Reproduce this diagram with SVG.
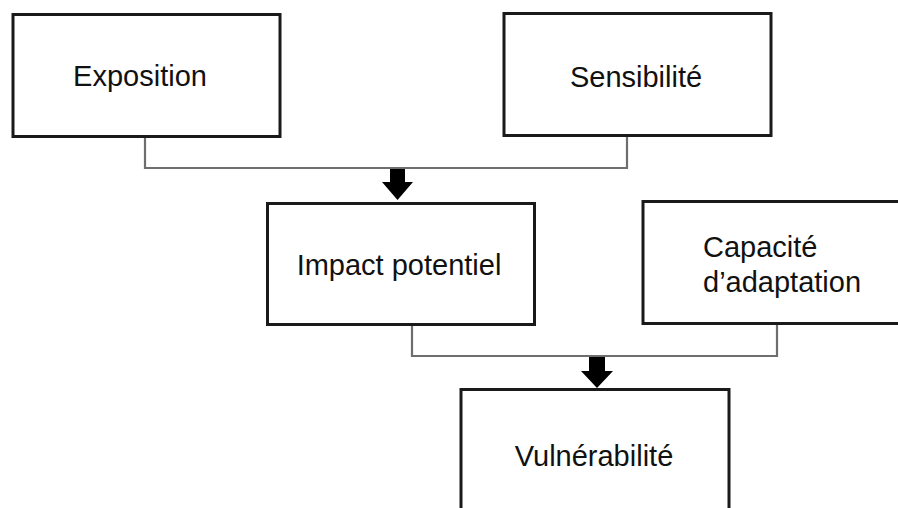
<svg xmlns="http://www.w3.org/2000/svg" width="898" height="508" viewBox="0 0 898 508">
<defs>
<style>
.box{fill:#fff;stroke:#1a1a1a;stroke-width:3}
.lbl{font-family:"Liberation Sans",Arial,sans-serif;font-size:29px;fill:#111}
.con{fill:none;stroke:#6e6e6e;stroke-width:2.2}
.arr{fill:#000}
</style>
</defs>
<rect width="898" height="508" fill="#fff"/>
<g id="connectors">
<polyline class="con" points="145,137 145,168 627,168 627,136"/>
<polygon class="arr" points="390,169 405,169 405,182 413,182 397.5,200 382,182 390,182"/>
<polyline class="con" points="412,325 412,356 777,356 777,324"/>
<polygon class="arr" points="589,357 605,357 605,371 613,371 597,388 581,371 589,371"/>
</g>
<g id="exposition">
<rect class="box" x="13" y="14.5" width="267" height="122"/>
<text class="lbl" x="140" y="86" text-anchor="middle">Exposition</text>
</g>
<g id="sensibilite">
<rect class="box" x="504" y="13.5" width="267" height="122"/>
<text class="lbl" x="636" y="87" text-anchor="middle">Sensibilité</text>
</g>
<g id="impact">
<rect class="box" x="267.5" y="203.5" width="267" height="121"/>
<text class="lbl" x="399" y="275" text-anchor="middle">Impact potentiel</text>
</g>
<g id="capacite">
<rect class="box" x="643" y="201.5" width="270" height="122"/>
<text class="lbl" x="703" y="257">Capacité</text>
<text class="lbl" x="703" y="292">d’adaptation</text>
</g>
<g id="vulnerabilite">
<rect class="box" x="461" y="389.5" width="268" height="140"/>
<text class="lbl" x="594" y="466" text-anchor="middle">Vulnérabilité</text>
</g>
</svg>
